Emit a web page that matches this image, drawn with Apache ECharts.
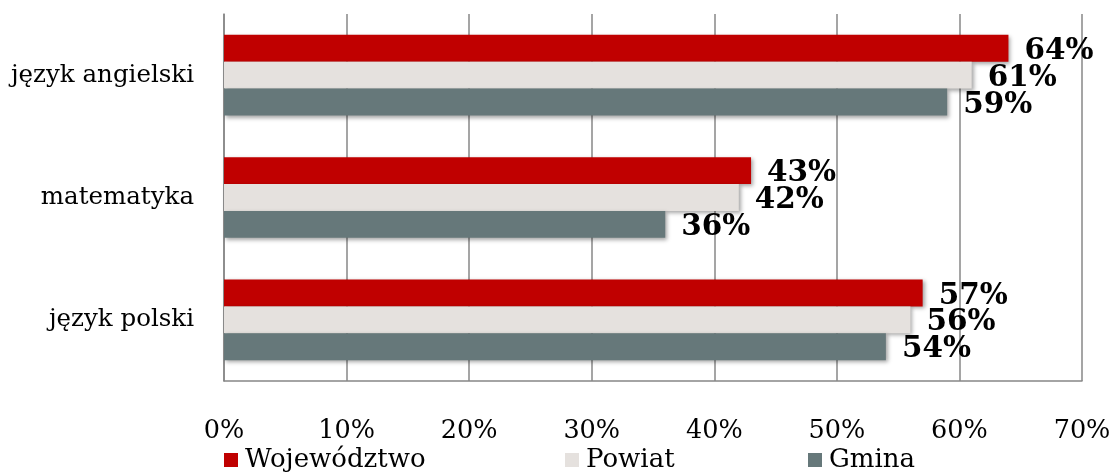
<!DOCTYPE html>
<html>
<head>
<meta charset="utf-8">
<script src="https://cdn.jsdelivr.net/npm/echarts@6/dist/echarts.min.js"></script>
<style>html,body{margin:0;padding:0;background:#fff}#c{width:1115px;height:472px}</style>
</head>
<body>
<div id="c"></div>
<script>
const categories = ['język angielski', 'matematyka', 'język polski'];
const seriesNames = ['Województwo', 'Powiat', 'Gmina'];
const wojewodztwo = [64, 43, 57];
const powiat = [61, 42, 56];
const gmina = [59, 36, 54];
const xTicks = [0, 10, 20, 30, 40, 50, 60, 70];

const colors = ['#C00000', '#E5E1DE', '#66787A'];
const values = [wojewodztwo, powiat, gmina];
const FONT = 'DejaVu Serif';

const chart = echarts.init(document.getElementById('c'));
const legendLefts = [224, 565, 808];
chart.setOption({
  animation: false,
  grid: { left: 224, right: 33, top: 14, bottom: 91, containLabel: false },
  xAxis: {
    type: 'value', min: xTicks[0], max: xTicks[xTicks.length - 1], interval: 10,
    axisLabel: { formatter: '{value}%', fontFamily: FONT, fontSize: 25.5, color: '#000', margin: 37 },
    axisLine: { show: true, lineStyle: { color: '#878787', width: 1.5 } },
    axisTick: { show: false },
    splitLine: { show: true, lineStyle: { color: '#878787', width: 1.5 } }
  },
  yAxis: {
    type: 'category', data: categories, inverse: true,
    axisLabel: { fontFamily: FONT, fontSize: 24.5, color: '#000', margin: 30 },
    axisLine: { show: true, lineStyle: { color: '#878787', width: 1.5 } },
    axisTick: { show: false }
  },
  legend: seriesNames.map((n, i) => ({
    data: [n], left: legendLefts[i], top: 447, itemWidth: 14, itemHeight: 14, itemGap: 8,
    icon: 'rect', padding: 0,
    textStyle: { fontFamily: FONT, fontSize: 26, color: '#000', padding: [0, 0, 0, 2] }
  })),
  series: seriesNames.map((n, i) => ({
    name: n, type: 'bar', data: values[i], barGap: '0%', barCategoryGap: '34%',
    itemStyle: { color: colors[i], shadowColor: 'rgba(0,0,0,0.35)', shadowBlur: 4, shadowOffsetX: 2, shadowOffsetY: 2 },
    label: {
      show: true, position: 'right', distance: 16, formatter: '{c}%', offset: [0, 3],
      fontFamily: FONT, fontWeight: 'bold', fontSize: 29.5, color: '#000'
    }
  }))
});
</script>
</body>
</html>
